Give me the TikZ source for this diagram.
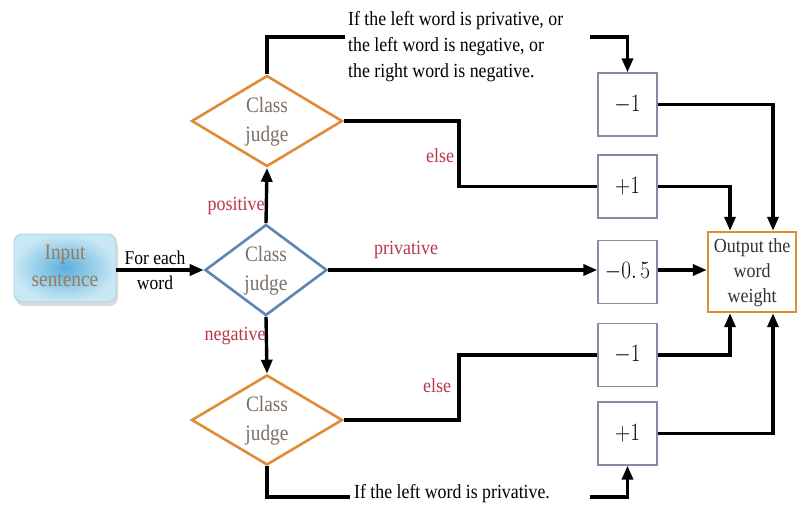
\documentclass[tikz,border=0pt]{standalone}
\usepackage{fontspec}
\setmainfont{Liberation Serif}
\usetikzlibrary{arrows.meta,shapes.geometric,shadows}

\definecolor{judgeorange}{HTML}{E08B35}
\definecolor{judgeblue}{HTML}{5A87B3}
\definecolor{judgetext}{HTML}{7D7068}
\definecolor{labelred}{HTML}{B8374A}
\definecolor{boxline}{HTML}{8E86A6}
\definecolor{inputtext}{HTML}{9A7B5B}

% narrow two-line text block
\newcommand{\narrowstack}[2]{\scalebox{0.88}[1]{\begin{tabular}{@{}c@{}}#1\\#2\end{tabular}}}
% the same block taking no room, so the diamond keeps its given size
\newcommand{\judgelabel}{\makebox[0pt]{\raisebox{-5.5pt}[0pt][0pt]{\narrowstack{Class}{judge}}}}

\tikzset{
  conn/.style={line width=3.4pt, draw=black},
  arr/.style={conn, -{Triangle[length=14pt,width=11pt]}},
  judge/.style={diamond, draw, line width=2.6pt, inner sep=0pt, aspect=1.65,
    align=center, text=judgetext, font=\fontsize{22}{29}\selectfont},
  valbox/.style={draw=boxline, line width=1.3pt, minimum width=59pt,
    minimum height=63pt, inner sep=0pt, font=\fontsize{25}{28}\selectfont},
  lbl/.style={text=labelred, font=\fontsize{20}{22}\selectfont, inner sep=0pt, xscale=0.9},
  note/.style={align=left, font=\fontsize{20}{26}\selectfont, inner sep=0pt, xscale=0.89},
  plain/.style={font=\fontsize{19.5}{22}\selectfont, inner sep=0pt, xscale=0.9},
}

\begin{document}
\begin{tikzpicture}[x=1pt, y=-1pt]
  \path[fill=white] (0,0) rectangle (797,508);
  \useasboundingbox (0,0) rectangle (797,508);

  % input box
  \node[rounded corners=8pt, minimum width=102pt, minimum height=68pt,
        draw={rgb,255:red,170;green,205;blue,220}, line width=0.8pt,
        shading=radial, inner color={rgb,255:red,90;green,175;blue,222},
        outer color={rgb,255:red,200;green,232;blue,243},
        drop shadow={shadow xshift=2pt, shadow yshift=-4pt, fill=gray!55},
        text=inputtext, font=\fontsize{22}{27}\selectfont]
        (in) at (65,268) {\narrowstack{Input}{sentence}};

  % decision diamonds
  \node[judge, draw=judgeblue, minimum width=122pt, minimum height=91pt]
        (dc) at (266,270) {\judgelabel};
  \node[judge, draw=judgeorange, minimum width=151pt, minimum height=91pt]
        (dt) at (267,121) {\judgelabel};
  \node[judge, draw=judgeorange, minimum width=151pt, minimum height=90pt]
        (db) at (267,420) {\judgelabel};

  % weight boxes
  \node[valbox] (m1) at (627.5,104.5) {\scalebox{0.85}[1]{$-1$}};
  \node[valbox] (p1) at (627.5,186.5) {\scalebox{0.85}[1]{$+1$}};
  \node[valbox] (h)  at (627.5,272)   {\scalebox{0.85}[1]{$-0.\,5$}};
  \node[valbox] (m2) at (627.5,355)   {\scalebox{0.85}[1]{$-1$}};
  \node[valbox] (p2) at (627.5,433.5) {\scalebox{0.85}[1]{$+1$}};

  % output box
  \node[draw=judgeorange, line width=2.4pt, minimum width=88pt, minimum height=80pt,
        inner sep=0pt, align=center, text=black!80,
        font=\fontsize{20}{25}\selectfont]
        (out) at (752,272) {\scalebox{0.9}[1]{\begin{tabular}{@{}c@{}}Output the\\word\\weight\end{tabular}}};

  % condition notes
  \node[note, anchor=west] (toptext) at (348,47)
    {If the left word is privative, or\\the left word is negative, or\\the right word is negative.};
  \node[note, anchor=west] (bottext) at (354,494) {If the left word is privative.};
  \coordinate (t1) at (345,37);
  \coordinate (t2) at (590,37);
  \coordinate (b1) at (350,497);
  \coordinate (b2) at (590,497);

  % connectors
  \draw[arr] (in.east |- dc.west) -- (dc.west);
  \node[plain] (fe) at (155,258) {For each};
  \node[plain] (fw) at (155,283) {word};

  \draw[arr] (dc.north) -- (dt.south);
  \draw[arr] (dc.south) -- (db.north);
  \node[lbl] (lpos) at (236,206) {positive};
  \node[lbl] (lneg) at (235,336) {negative};

  \draw[arr] (dc.east) -- (dc.east -| h.west);
  \node[lbl] (lpri) at (406,250) {privative};

  \draw[conn] (dt.north) |- (t1);
  \draw[arr] (t2) -| (m1.north);
  \draw[conn] (dt.east) -- ++(115,0) |- (p1.west);
  \node[lbl] (lel1) at (440,156) {else};

  \draw[conn] (db.south) |- (b1);
  \draw[arr] (b2) -| (p2.south);
  \draw[conn] (db.east) -- ++(115,0) |- (m2.west);
  \node[lbl] (lel2) at (437,386) {else};

  \draw[arr] (m1.east) -| ([xshift=21pt]out.north);
  \draw[arr] (p1.east) -| ([xshift=-22pt]out.north);
  \draw[arr] (h.east |- dc.east) -- (dc.east -| out.west);
  \draw[arr] (m2.east) -| ([xshift=-22pt]out.south);
  \draw[arr] (p2.east) -| ([xshift=21pt]out.south);
\end{tikzpicture}
\end{document}
